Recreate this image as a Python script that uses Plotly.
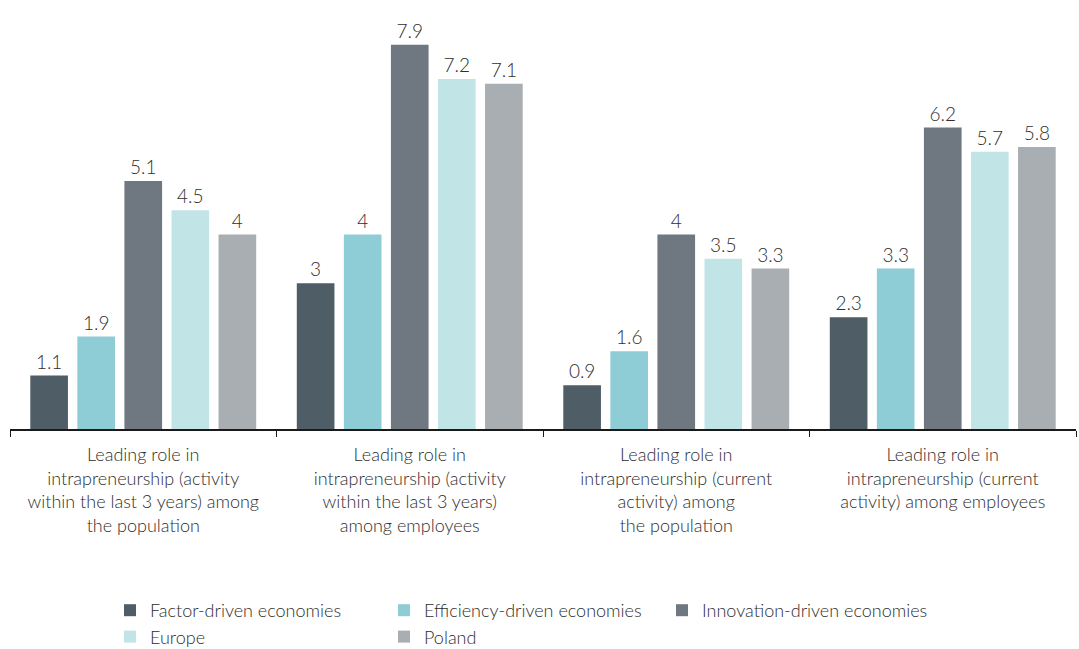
import plotly.graph_objects as go

categories = [
    "Leading role in<br>intrapreneurship (activity<br>within the last 3 years) among<br>the population",
    "Leading role in<br>intrapreneurship (activity<br>within the last 3 years)<br>among employees",
    "Leading role in<br>intrapreneurship (current<br>activity) among<br>the population",
    "Leading role in<br>intrapreneurship (current<br>activity) among employees",
]

factor_driven = [1.1, 3, 0.9, 2.3]
efficiency_driven = [1.9, 4, 1.6, 3.3]
innovation_driven = [5.1, 7.9, 4, 6.2]
europe = [4.5, 7.2, 3.5, 5.7]
poland = [4, 7.1, 3.3, 5.8]

# (name, values, colour, legend column)
series = [
    ("Factor-driven economies", factor_driven, "#4f5d67", "legend"),
    ("Efficiency-driven economies", efficiency_driven, "#8ecdd5", "legend2"),
    ("Innovation-driven economies", innovation_driven, "#6f7880", "legend3"),
    ("Europe", europe, "#c1e4e7", "legend"),
    ("Poland", poland, "#a9aeb2", "legend2"),
]

FONT = "Lato, Open Sans, DejaVu Sans, sans-serif"
TXT = "#2e2e2e"
FS = 18

fig = go.Figure()
for name, vals, color, leg in series:
    fig.add_trace(go.Bar(
        name=name,
        x=categories,
        y=vals,
        legend=leg,
        marker=dict(color=color, line=dict(width=0)),
        text=[f"{v:g}" for v in vals],
        textposition="outside",
        textfont=dict(size=19, color=TXT, family=FONT, weight=300),
        cliponaxis=False,
    ))


def legend_column(x_px):
    return dict(
        orientation="v",
        xref="container",
        yref="container",
        x=x_px / 1079,
        xanchor="left",
        y=1 - 592 / 649,
        yanchor="top",
        itemwidth=30,
        tracegroupgap=0,
        bgcolor="rgba(0,0,0,0)",
        font=dict(size=FS, color=TXT, family=FONT, weight=300),
        traceorder="normal",
    )


fig.update_layout(
    width=1079,
    height=649,
    margin=dict(l=10, r=3, t=40, b=220, autoexpand=False),
    paper_bgcolor="white",
    plot_bgcolor="white",
    barmode="group",
    bargap=0.117,
    bargroupgap=0.2,
    font=dict(family=FONT, size=FS, color=TXT, weight=300),
    showlegend=True,
    legend=legend_column(110),
    legend2=legend_column(384),
    legend3=legend_column(662),
)

fig.update_xaxes(
    showline=True,
    linecolor="#1a1a1a",
    linewidth=1.5,
    ticks="outside",
    tickson="boundaries",
    ticklen=6,
    tickcolor="#1a1a1a",
    ticklabelstandoff=9,
    tickangle=0,
    automargin=False,
    tickfont=dict(size=FS, color=TXT, family=FONT, weight=300),
    showgrid=False,
)
fig.update_yaxes(
    range=[0, 8],
    visible=False,
    showgrid=False,
    automargin=False,
)

fig.write_html("out.html")
